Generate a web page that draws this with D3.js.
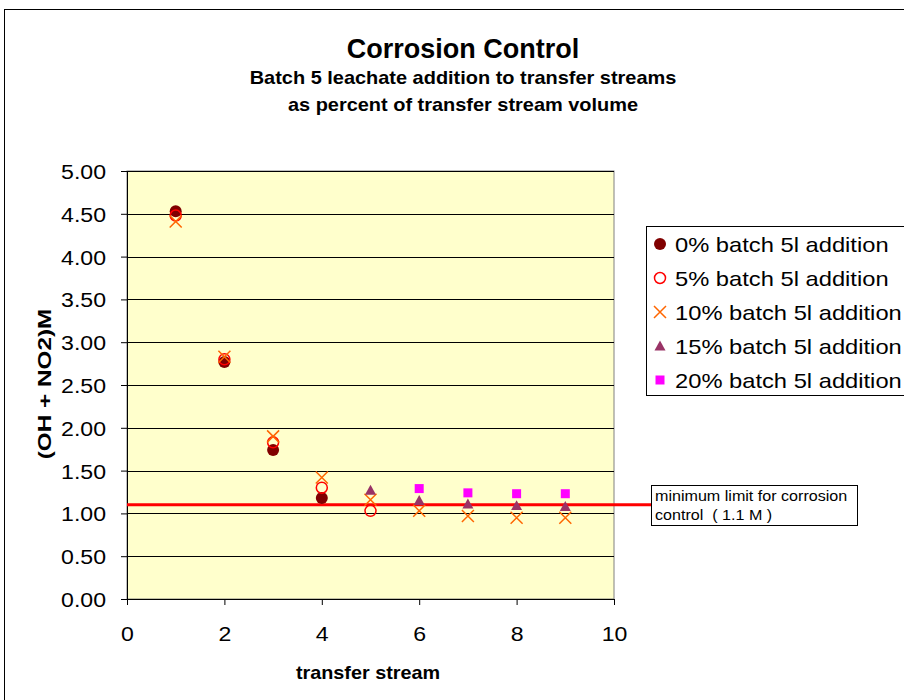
<!DOCTYPE html>
<html>
<head>
<meta charset="utf-8">
<script src="https://cdn.jsdelivr.net/npm/d3@7"></script>
<style>
    body { margin: 0; background: #fff; }
    svg { font-family: "Liberation Sans", Arial, sans-serif; }
</style>
</head>
<body>
<div id="chart"></div>
<script>
    let streams = [1, 2, 3, 4, 5, 6, 7, 8, 9];

    let series_names = [
        "0% batch 5l addition",
        "5% batch 5l addition",
        "10% batch 5l addition",
        "15% batch 5l addition",
        "20% batch 5l addition"
    ];

    // null = no measurement at that stream
    let pct0 = [4.53, 2.77, 1.74, 1.18, null, null, null, null, null];
    let pct5 = [4.48, 2.80, 1.83, 1.30, 1.03, null, null, null, null];
    let pct10 = [4.41, 2.83, 1.90, 1.42, 1.16, 1.03, 0.97, 0.95, 0.95];
    let pct15 = [null, null, null, null, 1.27, 1.15, 1.11, 1.09, 1.08];
    let pct20 = [null, null, null, null, null, 1.29, 1.24, 1.23, 1.23];

    let y_ticks = [0, 0.5, 1, 1.5, 2, 2.5, 3, 3.5, 4, 4.5, 5];
    let x_ticks = [0, 2, 4, 6, 8, 10];
    let limit = 1.1;

(() => {
    let w = 904;
    let h = 700;
    let svg = d3.select("#chart")
        .append("svg")
        .attr("width", w)
        .attr("height", h);

    // the original text is a bit wider than Arial, so stretch it horizontally
    let addText = (x, y, str, size, sx, opts = {}) => {
        let t = svg.append("text")
            .attr("transform", "translate(" + x + "," + y + ") scale(" + sx + ",1)")
            .attr("font-size", size)
            .attr("text-anchor", opts.anchor || "start")
            .attr("font-weight", opts.bold ? "bold" : "normal")
            .attr("xml:space", "preserve")
            .text(str);
        return t;
    };

    // outer chart frame
    svg.append("rect")
        .attr("x", 4.5)
        .attr("y", 9.5)
        .attr("width", w + 10)
        .attr("height", h + 10)
        .attr("fill", "#fff")
        .attr("stroke", "#000")
        .attr("stroke-width", 1);

    let pl = 127, pr = 614, pt = 171, pb = 599;

    let x = d3.scaleLinear().domain([0, 10]).range([pl, pr]);
    let y = d3.scaleLinear().domain([0, 5]).range([pb, pt]);

    // plot area
    svg.append("rect")
        .attr("x", pl)
        .attr("y", pt)
        .attr("width", pr - pl)
        .attr("height", pb - pt)
        .attr("fill", "#FFFFCC")
        .attr("stroke", "#808080")
        .attr("stroke-width", 1);

    svg.append("g")
        .selectAll("line")
        .data(y_ticks.slice(1))
        .enter()
        .append("line")
        .attr("x1", pl)
        .attr("x2", pr)
        .attr("y1", d => Math.round(y(d)) + 0.5)
        .attr("y2", d => Math.round(y(d)) + 0.5)
        .attr("stroke", "#000")
        .attr("stroke-width", 1);

    let y_axis = d3.axisLeft(y)
        .tickValues(y_ticks)
        .tickFormat(d3.format(".2f"))
        .tickSizeOuter(0)
        .tickSize(6)
        .tickPadding(15);

    let gy = svg.append("g")
        .attr("transform", "translate(" + pl + ",0)")
        .call(y_axis);

    let x_axis = d3.axisBottom(x)
        .tickValues(x_ticks)
        .tickSizeOuter(0)
        .tickSize(6)
        .tickPadding(8);

    let gx = svg.append("g")
        .attr("transform", "translate(0," + pb + ")")
        .call(x_axis);

    [gx, gy].forEach(g => {
        g.selectAll("text")
            .attr("font-family", "Liberation Sans, Arial, sans-serif")
            .attr("font-size", 21)
            .attr("fill", "#000");
        g.selectAll("line, path").attr("stroke", "#000");
    });
    gx.selectAll("text")
        .attr("y", 0)
        .attr("dy", 0)
        .attr("transform", "translate(0,42) scale(1.1,1)");
    gy.selectAll("text")
        .attr("x", 0)
        .attr("dy", "0.36em")
        .attr("transform", "translate(-21,0) scale(1.1,1)");

    // minimum limit line
    svg.append("line")
        .attr("x1", pl)
        .attr("x2", 651)
        .attr("y1", y(limit))
        .attr("y2", y(limit))
        .attr("stroke", "#FF0000")
        .attr("stroke-width", 3);

    // markers
    let symbols = [
        { fill: "#800000", stroke: "none", shape: "circle", r: 6 },
        { fill: "none", stroke: "#FF0000", shape: "circle", r: 5.5 },
        { fill: "none", stroke: "#FF6600", shape: "cross", r: 6 },
        { fill: "#993366", stroke: "none", shape: "triangle", r: 5.5 },
        { fill: "#FF00FF", stroke: "none", shape: "square", r: 4.5 }
    ];

    let drawMarker = (g, s, cx, cy) => {
        if (s.shape === "circle") {
            g.append("circle")
                .attr("cx", cx).attr("cy", cy).attr("r", s.r)
                .attr("fill", s.fill).attr("stroke", s.stroke)
                .attr("stroke-width", 1.5);
        } else if (s.shape === "cross") {
            g.append("path")
                .attr("d", "M" + (cx - s.r) + "," + (cy - s.r) + "L" + (cx + s.r) + "," + (cy + s.r)
                    + "M" + (cx - s.r) + "," + (cy + s.r) + "L" + (cx + s.r) + "," + (cy - s.r))
                .attr("stroke", s.stroke).attr("stroke-width", 1.5).attr("fill", "none");
        } else if (s.shape === "triangle") {
            g.append("path")
                .attr("d", "M" + cx + "," + (cy - s.r) + "L" + (cx + s.r) + "," + (cy + s.r * 0.8)
                    + "L" + (cx - s.r) + "," + (cy + s.r * 0.8) + "Z")
                .attr("fill", s.fill);
        } else {
            g.append("rect")
                .attr("x", cx - s.r).attr("y", cy - s.r)
                .attr("width", s.r * 2).attr("height", s.r * 2)
                .attr("fill", s.fill);
        }
    };

    let all_series = [pct0, pct5, pct10, pct15, pct20];
    let marks = svg.append("g");
    all_series.forEach((vals, si) => {
        vals.forEach((v, i) => {
            if (v === null) return;
            drawMarker(marks, symbols[si], x(streams[i]), y(v));
        });
    });

    // legend
    let legend = svg.append("g");
    legend.append("rect")
        .attr("x", 646.5)
        .attr("y", 226.5)
        .attr("width", 270)
        .attr("height", 169)
        .attr("fill", "#fff")
        .attr("stroke", "#000");

    series_names.forEach((name, i) => {
        let ly = 244 + i * 34;
        drawMarker(legend, symbols[i], 660, ly);
        addText(675, ly + 7.5, name, 21, 1.13);
    });

    // annotation
    svg.append("rect")
        .attr("x", 651.5)
        .attr("y", 485.5)
        .attr("width", 206)
        .attr("height", 40)
        .attr("fill", "#fff")
        .attr("stroke", "#000");

    addText(655, 501, "minimum limit for corrosion", 14, 1.15);
    addText(655, 520, "control  ( 1.1 M )", 14, 1.15);

    // titles
    addText(463, 58, "Corrosion Control", 27, 1.0, { anchor: "middle", bold: true });
    addText(463, 84, "Batch 5 leachate addition to transfer streams", 19, 1.05, { anchor: "middle", bold: true });
    addText(463, 111, "as percent of transfer stream volume", 19, 1.05, { anchor: "middle", bold: true });
    addText(368, 679, "transfer stream", 18, 1.1, { anchor: "middle", bold: true });

    svg.append("text")
        .attr("transform", "translate(51,384) rotate(-90) scale(1.35,1)")
        .attr("text-anchor", "middle")
        .attr("font-weight", "bold")
        .attr("font-size", 18)
        .text("(OH + NO2)M");
})();
</script>
</body>
</html>
